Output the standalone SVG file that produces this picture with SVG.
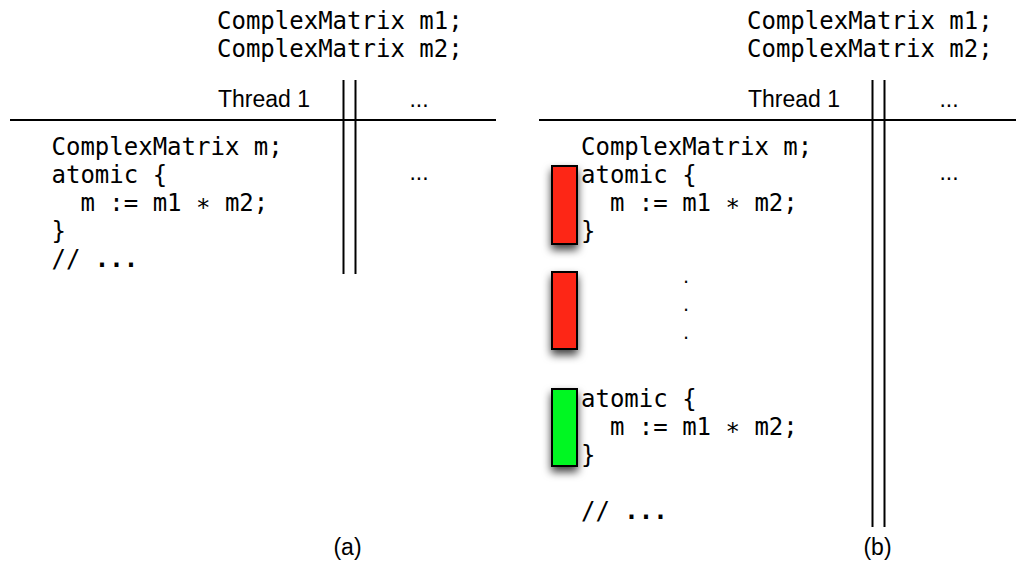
<svg xmlns="http://www.w3.org/2000/svg" width="1016" height="564" viewBox="0 0 1016 564">
<style>
.mono{font-family:"DejaVu Sans Mono","Liberation Mono",monospace;font-size:24px;fill:#000;white-space:pre}
.sans{font-family:"Liberation Sans",Arial,sans-serif;font-size:23px;fill:#000}
.dot{font-family:"DejaVu Sans Mono","Liberation Mono",monospace;font-size:16px;fill:#000}
.b{font-weight:bold}
.rule{stroke:#000;stroke-width:2;fill:none}
.red{fill:#fd2716;stroke:#000;stroke-width:2}
.green{fill:#00f723;stroke:#000;stroke-width:2}
</style>
<defs>
<filter id="sh" x="-60%" y="-30%" width="220%" height="160%">
<feDropShadow dx="0" dy="5" stdDeviation="4" flood-color="#000" flood-opacity="0.75"/>
</filter>
</defs>
<rect width="1016" height="564" fill="#fff"/>
<g id="panel-a">
<text class="mono" x="217" y="29">ComplexMatrix m1;</text>
<text class="mono" x="217" y="57">ComplexMatrix m2;</text>
<text class="sans" x="218" y="107">Thread 1</text>
<text class="sans" x="419" y="107" text-anchor="middle">...</text>
<text class="sans" x="419" y="180" text-anchor="middle">...</text>
<line class="rule" x1="10" y1="120" x2="496" y2="120"/>
<line class="rule" x1="343.5" y1="80" x2="343.5" y2="274"/>
<line class="rule" x1="355.5" y1="80" x2="355.5" y2="274"/>
<text class="mono" x="51.5" y="155">ComplexMatrix m;</text>
<text class="mono" x="51.5" y="183">atomic {</text>
<text class="mono" x="51.5" y="211" xml:space="preserve">  m := m1 ∗ m2;</text>
<text class="mono" x="51.5" y="239">}</text>
<text class="mono" x="51.5" y="267" xml:space="preserve">// <tspan class="b">...</tspan></text>
<text class="sans" x="347.5" y="555" text-anchor="middle">(a)</text>
</g>
<g id="panel-b">
<text class="mono" x="747" y="29">ComplexMatrix m1;</text>
<text class="mono" x="747" y="57">ComplexMatrix m2;</text>
<text class="sans" x="748" y="107">Thread 1</text>
<text class="sans" x="949" y="107" text-anchor="middle">...</text>
<text class="sans" x="949" y="180" text-anchor="middle">...</text>
<line class="rule" x1="539" y1="120" x2="1016" y2="120"/>
<line class="rule" x1="872.5" y1="80" x2="872.5" y2="527"/>
<line class="rule" x1="884.5" y1="80" x2="884.5" y2="527"/>
<text class="mono" x="581" y="155">ComplexMatrix m;</text>
<text class="mono" x="581" y="183">atomic {</text>
<text class="mono" x="581" y="211" xml:space="preserve">  m := m1 ∗ m2;</text>
<text class="mono" x="581" y="239">}</text>
<text class="dot" x="686" y="283" text-anchor="middle">.</text>
<text class="dot" x="686" y="311" text-anchor="middle">.</text>
<text class="dot" x="686" y="339" text-anchor="middle">.</text>
<text class="mono" x="581" y="407">atomic {</text>
<text class="mono" x="581" y="435" xml:space="preserve">  m := m1 ∗ m2;</text>
<text class="mono" x="581" y="463">}</text>
<text class="mono" x="581" y="519" xml:space="preserve">// <tspan class="b">...</tspan></text>
<text class="sans" x="877.5" y="555" text-anchor="middle">(b)</text>
</g>
<g id="attempt1"><rect class="red" x="552" y="166" width="25" height="78" filter="url(#sh)"/></g>
<g id="attempt2"><rect class="red" x="552" y="272" width="25" height="77" filter="url(#sh)"/></g>
<g id="attempt3"><rect class="green" x="552" y="389" width="25" height="77" filter="url(#sh)"/></g>
</svg>
